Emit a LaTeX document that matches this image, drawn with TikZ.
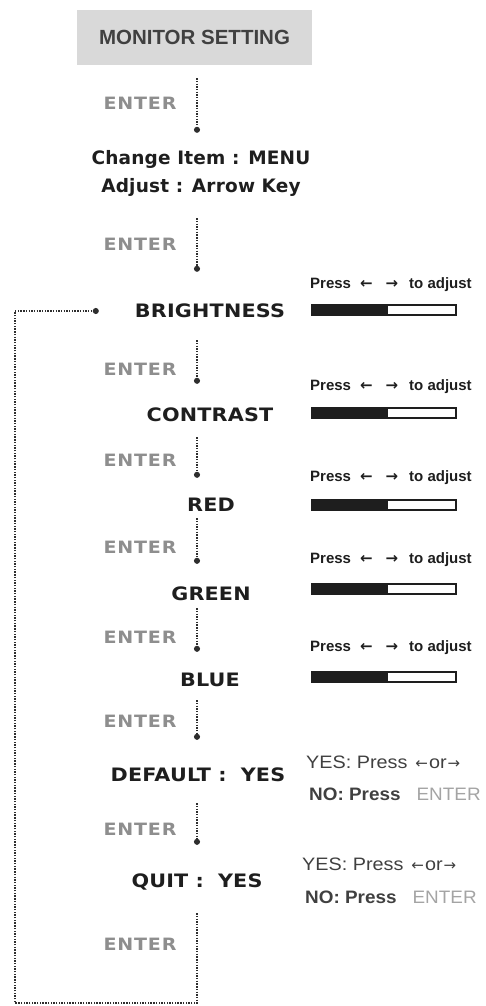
\documentclass[tikz,border=0pt]{standalone}
\usepackage{fontspec}
\setmainfont{Liberation Sans}
\newfontfamily\capfont{DejaVu Sans}[FakeStretch=1.12, LetterSpace=1]
\newfontfamily\chgfont{DejaVu Sans}[LetterSpace=1]
\newfontfamily\entfont{DejaVu Sans}[FakeStretch=1.12, LetterSpace=5]
\newfontfamily\arfont{DejaVu Sans}
\newfontfamily\yesfont{Liberation Sans}[FakeStretch=1.1]
\newfontfamily\nofont{Liberation Sans}[FakeStretch=1.05]
\usetikzlibrary{arrows.meta}
\definecolor{boxgray}{HTML}{D9D9D9}
\definecolor{ink}{HTML}{1E1E1E}
\definecolor{entergray}{HTML}{8E8E8E}
\definecolor{flowgray}{HTML}{2E2E2E}
\newcommand{\la}{{\arfont ←}}
\newcommand{\ra}{{\arfont →}}
\newcommand{\sla}{{\arfont\fontsize{15}{15}\selectfont ←}}
\newcommand{\sra}{{\arfont\fontsize{15}{15}\selectfont →}}
\begin{document}
\begin{tikzpicture}[x=1pt,y=-1pt,
  lbl/.style={font=\capfont\bfseries\fontsize{18.5}{18.5}\selectfont, text=ink, inner sep=0pt, text height=13pt, text depth=0pt},
  chg/.style={font=\chgfont\bfseries\fontsize{18.5}{18.5}\selectfont, text=ink, inner sep=0pt, text height=13pt, text depth=0pt},
  enter/.style={font=\entfont\bfseries\fontsize{17}{17}\selectfont, text=entergray, inner sep=0pt},
  flow/.style={draw=flowgray, line width=1.2pt, dash pattern=on 1.4pt off 1.3pt, -{Circle[length=6pt]}},
  press/.style={font=\bfseries\fontsize{15}{15}\selectfont, text=ink, inner sep=0pt, anchor=west},
  yes/.style={font=\yesfont\fontsize{18}{18}\selectfont, text=ink!85, inner sep=0pt, anchor=west},
  no/.style={font=\nofont\bfseries\fontsize{18}{18}\selectfont, text=ink!85, inner sep=0pt, anchor=west},
  bar/.style={draw=ink, line width=1.6pt, fill=white, minimum width=144pt, minimum height=10pt, inner sep=0pt,
    path picture={\fill[ink] (path picture bounding box.south west) rectangle ([xshift=76pt]path picture bounding box.north west);}}
]
\useasboundingbox (0,0) rectangle (485,1006);

\coordinate (xl) at (197,0);
\coordinate (cb) at (15,1003);

\node[fill=boxgray, minimum width=235pt, minimum height=55pt, inner sep=0pt,
      font=\bfseries\fontsize{20.5}{20.5}\selectfont, text=ink!85] (title) at (194.5,37.5) {MONITOR SETTING};

\node[chg] (chg1) at (201,158) {Change Item : MENU};
\node[chg] (chg2) at (201,186) {Adjust : Arrow Key};

\node[lbl] (bright) at (210,311) {BRIGHTNESS};
\node[lbl] (contrast) at (210,415) {CONTRAST};
\node[lbl] (red) at (211,505) {RED};
\node[lbl] (green) at (211,594) {GREEN};
\node[lbl] (blue) at (210,680) {BLUE};
\node[lbl] (default) at (198,775) {DEFAULT :\hspace{14pt}YES};
\node[lbl] (quit) at (197,881) {QUIT :\hspace{14pt}YES};

% ENTER labels
\node[enter] (e1) at (140,103) {ENTER};
\node[enter] (e2) at (140,244) {ENTER};
\node[enter] (e3) at (140,369) {ENTER};
\node[enter] (e4) at (140,460) {ENTER};
\node[enter] (e5) at (140,547) {ENTER};
\node[enter] (e6) at (140,637) {ENTER};
\node[enter] (e7) at (140,721) {ENTER};
\node[enter] (e8) at (140,829) {ENTER};
\node[enter] (e9) at (140,944) {ENTER};

% flow arrows
\draw[flow, shorten <=13pt, shorten >=18.5pt] (title.south -| xl) -- (chg1.north -| xl);
\draw[flow, shorten <=25.5pt, shorten >=32.5pt] (chg2.south -| xl) -- (bright.north -| xl);
\draw[flow, shorten <=22.5pt, shorten >=24.5pt] (bright.south -| xl) -- (contrast.north -| xl);
\draw[flow, shorten <=15.5pt, shorten >=20.5pt] (contrast.south -| xl) -- (red.north -| xl);
\draw[flow, shorten <=6.5pt, shorten >=23.5pt] (red.south -| xl) -- (green.north -| xl);
\draw[flow, shorten <=7.5pt, shorten >=21.5pt] (green.south -| xl) -- (blue.north -| xl);
\draw[flow, shorten <=13.5pt, shorten >=28.5pt] (blue.south -| xl) -- (default.north -| xl);
\draw[flow, shorten <=21.5pt, shorten >=29.5pt] (default.south -| xl) -- (quit.north -| xl);
\draw[flow, shorten <=25.5pt, shorten >=36pt] (quit.south -| xl) -- (xl |- cb) -- (cb) |- (bright.west);

% adjust bars
\node[press] (p1) at (310,285) {Press\hspace{9pt}\la\hspace{13pt}\ra\hspace{11pt}to adjust};
\node[bar] (b1) at (384,310) {};
\node[press] (p2) at (310,387) {Press\hspace{9pt}\la\hspace{13pt}\ra\hspace{11pt}to adjust};
\node[bar] (b2) at (384,413) {};
\node[press] (p3) at (310,478) {Press\hspace{9pt}\la\hspace{13pt}\ra\hspace{11pt}to adjust};
\node[bar] (b3) at (384,505) {};
\node[press] (p4) at (310,560) {Press\hspace{9pt}\la\hspace{13pt}\ra\hspace{11pt}to adjust};
\node[bar] (b4) at (384,589) {};
\node[press] (p5) at (310,648) {Press\hspace{9pt}\la\hspace{13pt}\ra\hspace{11pt}to adjust};
\node[bar] (b5) at (384,677) {};

% yes / no
\node[yes] (y1) at (306,762) {YES: Press\hspace{8pt}\sla\hspace{1pt}or\hspace{1pt}\sra};
\node[no] (n1) at (309,794) {NO: Press\hspace{16pt}\mdseries\color{entergray!80}ENTER};
\node[yes] (y2) at (302,864) {YES: Press\hspace{8pt}\sla\hspace{1pt}or\hspace{1pt}\sra};
\node[no] (n2) at (305,897) {NO: Press\hspace{16pt}\mdseries\color{entergray!80}ENTER};
\end{tikzpicture}
\end{document}
